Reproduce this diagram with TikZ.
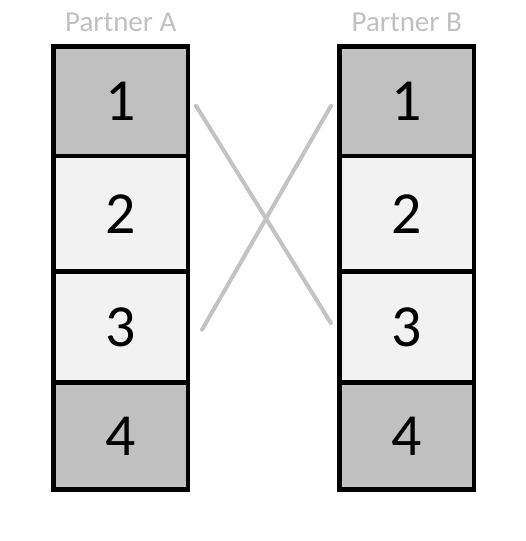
\documentclass[tikz,border=0pt]{standalone}
\usepackage{fontspec}
\setmainfont{Carlito}
\usepackage{xcolor}
\usetikzlibrary{positioning,calc}
\definecolor{slotdark}{RGB}{192,192,192}
\definecolor{slotlight}{RGB}{242,242,242}
\definecolor{crossgray}{RGB}{195,195,195}
\tikzset{
  slotbox/.style={draw=black,line width=2.8pt,outer sep=0pt,inner sep=0pt,
    minimum width=2.69cm,font=\fontsize{34}{40}\selectfont},
  darkslot/.style={slotbox,fill=slotdark},
  lightslot/.style={slotbox,fill=slotlight},
  partnerlabel/.style={text=slotdark,inner sep=0pt,font=\fontsize{16.5}{20}\selectfont},
  crossline/.style={draw=crossgray,line width=2.3pt,line cap=round}
}
\begin{document}
\begin{tikzpicture}[x=0.02cm,y=-0.02cm]
  \useasboundingbox (0,0) rectangle (525,541);
  % Partner A
  \node[darkslot,minimum height=2.19cm] (a1) at (120.75,101.25) {1};
  \node[lightslot,minimum height=2.31cm,below=0pt of a1] (a2) {2};
  \node[lightslot,minimum height=2.23cm,below=0pt of a2] (a3) {3};
  \node[darkslot,minimum height=2.14cm,below=0pt of a3] (a4) {4};
  \node[partnerlabel,above=0.29cm of a1] (labA) {Partner A};
  % Partner B
  \node[darkslot,minimum height=2.19cm] (b1) at (406.75,101.25) {1};
  \node[lightslot,minimum height=2.31cm,below=0pt of b1] (b2) {2};
  \node[lightslot,minimum height=2.23cm,below=0pt of b2] (b3) {3};
  \node[darkslot,minimum height=2.14cm,below=0pt of b3] (b4) {4};
  \node[partnerlabel,above=0.29cm of b1] (labB) {Partner B};
  % crossing
  \draw[crossline] ($(a1.east)+(8,4.5)$) -- ($(b3.west)+(-8.5,-4)$);
  \draw[crossline] ($(a3.east)+(14,2.5)$) -- ($(b1.west)+(-8.5,4.5)$);
\end{tikzpicture}
\end{document}
